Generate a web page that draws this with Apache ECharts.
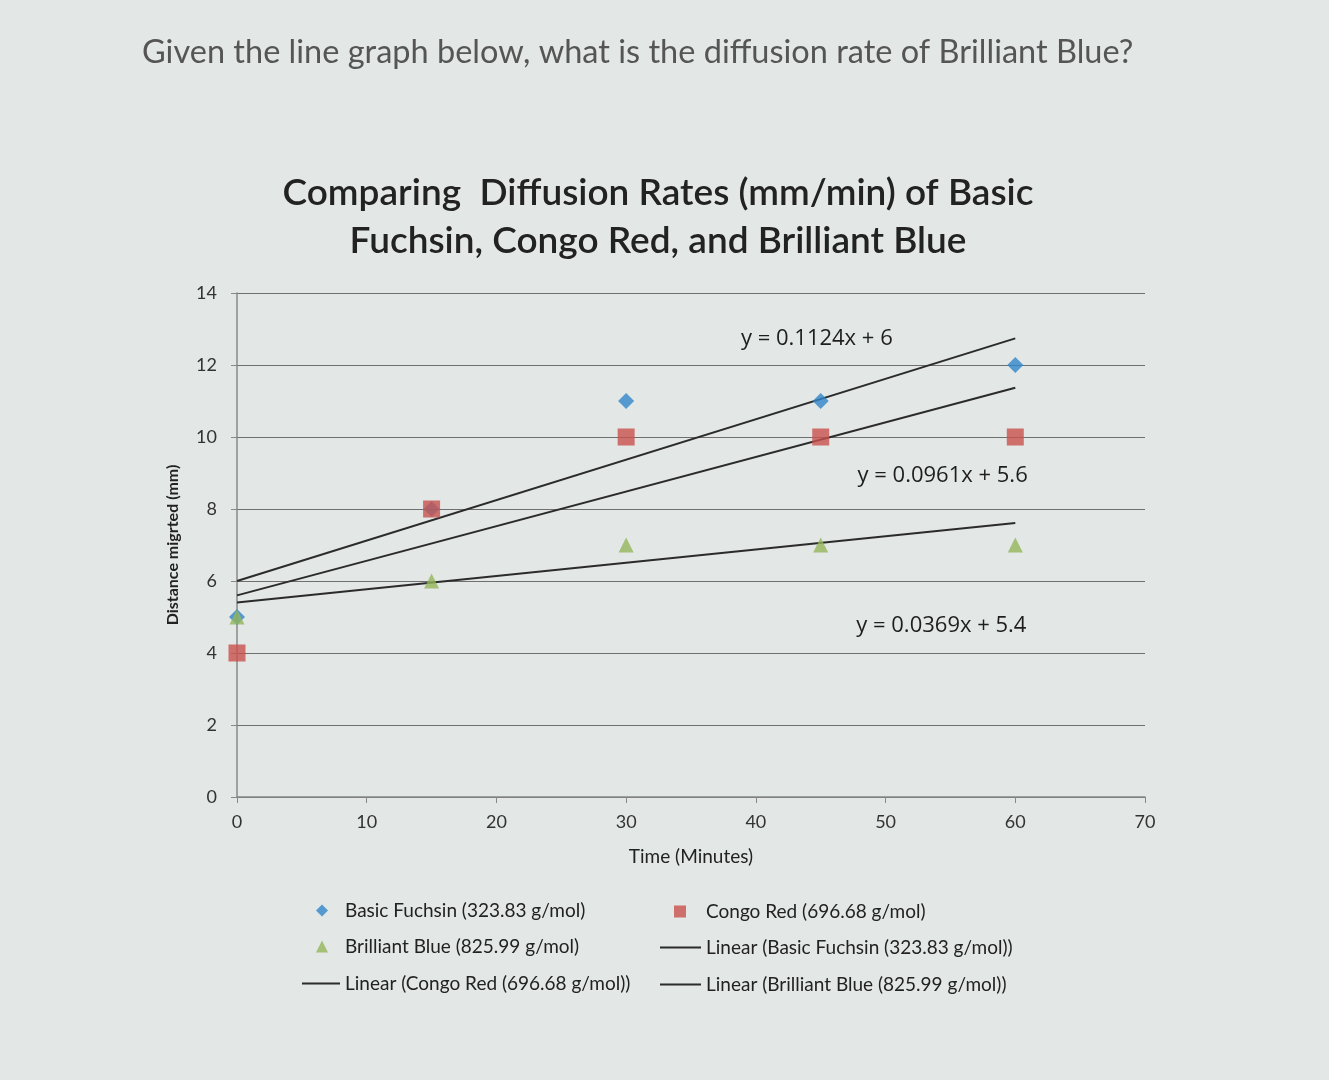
<!DOCTYPE html>
<html>
<head>
<meta charset="utf-8">
<title>Comparing Diffusion Rates</title>
<script src="https://cdn.jsdelivr.net/npm/echarts@6/dist/echarts.min.js"></script>
<style>
  html, body {
    margin: 0;
    padding: 0;
    background: #e3e7e6;
  }
  #chart {
    width: 1329px;
    height: 1080px;
  }
</style>
</head>
<body>
<div id="chart"></div>
<script>
// time (minutes) and distance migrated (mm)
const times = [0, 15, 30, 45, 60];
const basicFuchsin = [5, 8, 11, 11, 12];
const congoRed = [4, 8, 10, 10, 10];
const brilliantBlue = [5, 6, 7, 7, 7];

// trend line end points at x = 0 and x = 60
const trendX = [0, 60];
const trendFuchsin = [6, 12.74];
const trendCongo = [5.6, 11.37];
const trendBlue = [5.4, 7.61];

const equations = ["y = 0.1124x + 6", "y = 0.0961x + 5.6", "y = 0.0369x + 5.4"];
const equationPos = [[44.7, 12.72], [54.4, 8.92], [54.3, 4.77]];

const names = [
  "Basic Fuchsin (323.83 g/mol)",
  "Congo Red (696.68 g/mol)",
  "Brilliant Blue (825.99 g/mol)",
  "Linear (Basic Fuchsin (323.83 g/mol))",
  "Linear (Congo Red (696.68 g/mol))",
  "Linear (Brilliant Blue (825.99 g/mol))",
];

const pair = (xs, ys) => xs.map((x, i) => [x, ys[i]]);

const chart = echarts.init(document.getElementById("chart"));

const lineColor = "#2b2b2b";

// one legend box per entry so the marker icons stay small and the texts line up
function markerLegend(name, icon, left, top, pad) {
  return {
    left: left,
    top: top,
    padding: 0,
    itemWidth: 12,
    itemHeight: 12,
    textStyle: {
      fontFamily: "Lato",
      fontSize: 19,
      color: "#222",
      padding: [0, 0, 0, pad],
    },
    data: [{ name: name, icon: icon }],
  };
}

function lineLegend(name, left, top, width) {
  return {
    left: left,
    top: top,
    padding: 0,
    itemWidth: width,
    itemHeight: 2,
    textStyle: { fontFamily: "Lato", fontSize: 19, color: "#222" },
    data: [{ name: name, icon: "rect", itemStyle: { color: lineColor } }],
  };
}

function trendSeries(name, ys, eqIdx) {
  return {
    name: name,
    type: "line",
    data: pair(trendX, ys),
    showSymbol: false,
    symbol: "none",
    lineStyle: { color: lineColor, width: 2 },
    itemStyle: { color: lineColor },
    z: 3,
    markPoint: {
      symbol: "circle",
      symbolSize: 0,
      silent: true,
      label: {
        show: true,
        formatter: equations[eqIdx],
        fontFamily: "Open Sans",
        fontSize: 22,
        color: "#1e1e1e",
      },
      data: [{ coord: equationPos[eqIdx] }],
    },
  };
}

const option = {
  backgroundColor: "#e3e7e6",
  animation: false,
  title: [
    {
      text: "Given the line graph below, what is the diffusion rate of Brilliant Blue?",
      left: 137,
      top: 31,
      textStyle: { fontFamily: "Lato", fontSize: 32.5, fontWeight: "normal", color: "#555" },
    },
    {
      text: "Comparing  Diffusion Rates (mm/min) of Basic\nFuchsin, Congo Red, and Brilliant Blue",
      left: 653,
      textAlign: "center",
      top: 164,
      textStyle: {
        fontFamily: "Lato",
        fontSize: 37,
        fontWeight: 600,
        color: "#222",
        lineHeight: 48,
      },
    },
  ],
  grid: {
    left: 237,
    right: 184,
    top: 293,
    bottom: 283,
  },
  xAxis: {
    type: "value",
    min: 0,
    max: 70,
    interval: 10,
    name: "Time (Minutes)",
    nameLocation: "middle",
    nameGap: 50,
    nameTextStyle: { fontFamily: "Lato", fontSize: 19, color: "#222" },
    axisLine: { show: true, lineStyle: { color: "#888", width: 1.5 } },
    axisTick: { show: true, length: 6, lineStyle: { color: "#888" } },
    axisLabel: { fontFamily: "Lato", fontSize: 18, color: "#333", margin: 16 },
    splitLine: { show: false },
  },
  yAxis: {
    type: "value",
    min: 0,
    max: 14,
    interval: 2,
    name: "Distance migrted (mm)",
    nameLocation: "middle",
    nameGap: 56,
    nameTextStyle: { fontFamily: "Lato", fontSize: 16, fontWeight: "bold", color: "#222" },
    axisLine: { show: true, lineStyle: { color: "#888", width: 1.5 } },
    axisTick: { show: true, length: 6, lineStyle: { color: "#888" } },
    axisLabel: { fontFamily: "Lato", fontSize: 18, color: "#333", margin: 20 },
    splitLine: { show: true, lineStyle: { color: "#6f6f6f", width: 1.2 } },
  },
  legend: [
    markerLegend(names[0], "diamond", 316, 901, 12),
    markerLegend(names[2], "triangle", 316, 937, 12),
    lineLegend(names[4], 302, 974, 38),
    markerLegend(names[1], "rect", 674, 902, 15),
    lineLegend(names[3], 660, 938, 41),
    lineLegend(names[5], 660, 975, 41),
  ],
  series: [
    {
      name: names[0],
      type: "scatter",
      data: pair(times, basicFuchsin),
      symbol: "diamond",
      symbolSize: 16,
      itemStyle: { color: "#2f86c9" },
      z: 4,
    },
    {
      name: names[1],
      type: "scatter",
      data: pair(times, congoRed),
      symbol: "rect",
      symbolSize: 17,
      itemStyle: { color: "#c9514c" },
      z: 4,
    },
    {
      name: names[2],
      type: "scatter",
      data: pair(times, brilliantBlue),
      symbol: "triangle",
      symbolSize: 15,
      itemStyle: { color: "#93b55a" },
      z: 4,
    },
    trendSeries(names[3], trendFuchsin, 0),
    trendSeries(names[4], trendCongo, 1),
    trendSeries(names[5], trendBlue, 2),
  ],
};

chart.setOption(option);
window.addEventListener("resize", () => chart.resize());
</script>
</body>
</html>
